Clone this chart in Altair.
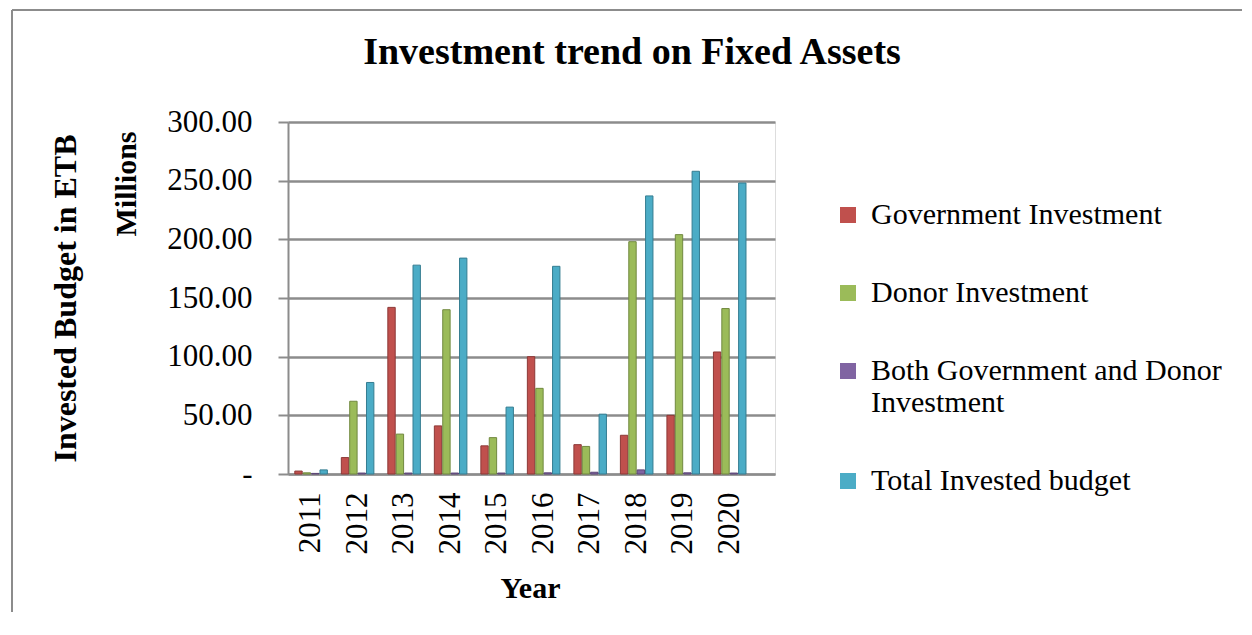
import altair as alt
import pandas as pd

years = ["2011", "2012", "2013", "2014", "2015", "2016", "2017", "2018", "2019", "2020"]
series = ["Government Investment", "Donor Investment",
          "Both Government and Donor Investment", "Total Invested budget"]
gov = [2.5, 14, 142, 41, 24, 100, 25, 33, 50, 104]
donor = [1, 62, 34, 140, 31, 73, 23.5, 198, 204, 141]
both = [0.5, 0.8, 0.8, 0.8, 0.8, 1.0, 1.5, 3.5, 1.0, 0.8]
total = [3.5, 78, 178, 184, 57, 177, 51, 237, 258, 248]
y_ticks = [0, 50, 100, 150, 200, 250, 300]

colors = ["#C0504D", "#9BBB59", "#8064A2", "#4BACC6"]
strokes = ["#8C3836", "#71893F", "#5C4776", "#357D91"]

rows = []
for s, vals in zip(series, [gov, donor, both, total]):
    for yr, v in zip(years, vals):
        rows.append({"Year": yr, "Series": s, "Value": v})
df = pd.DataFrame(rows)

FONT = "Liberation Serif"
GRID = "#8c8c8c"
W, H = 487, 352

bars = alt.Chart(df).mark_bar(strokeWidth=1).encode(
    x=alt.X("Year:N", sort=years,
            scale=alt.Scale(paddingInner=0.3, paddingOuter=0.385, align=0.19),
            axis=alt.Axis(title="Year", labelAngle=-90, labelFontSize=31, labelFont=FONT,
                          labelColor="black", labelPadding=18, ticks=False,
                          domainColor=GRID, domainWidth=2,
                          titleFontSize=30, titleFontWeight="bold", titleFont=FONT,
                          titleColor="black", titleX=242, titleY=114,
                          titleBaseline="middle", titleAlign="center")),
    xOffset=alt.XOffset("Series:N", sort=series, scale=alt.Scale(paddingInner=0.12)),
    y=alt.Y("Value:Q", scale=alt.Scale(domain=[0, 300], nice=False),
            axis=alt.Axis(title="Invested Budget in ETB", values=y_ticks,
                          labelExpr="datum.value == 0 ? '-\u00a0\u00a0\u00a0' : format(datum.value, '.2f')",
                          labelFontSize=31, labelFont=FONT, labelColor="black",
                          labelPadding=26, tickSize=10, tickColor=GRID, tickWidth=2,
                          domainColor=GRID, domainWidth=2,
                          grid=True, gridColor=GRID, gridWidth=2.5,
                          titleFontSize=32, titleFontWeight="bold", titleFont=FONT,
                          titleColor="black", titleAngle=270, titleX=-223, titleY=176,
                          titleBaseline="middle", titleAlign="center")),
    color=alt.Color("Series:N", sort=series,
                    scale=alt.Scale(domain=series, range=colors),
                    legend=alt.Legend(title=None, orient="none", legendX=545, legendY=78,
                                      symbolType="square", symbolSize=256,
                                      symbolStrokeWidth=0,
                                      labelFontSize=30, labelFont=FONT, labelColor="black",
                                      labelLimit=0, labelOffset=8, rowPadding=48,
                                      labelExpr="datum.label == 'Both Government and Donor Investment' ? ['Both Government and Donor', 'Investment'] : datum.label")),
    stroke=alt.Stroke("Series:N", scale=alt.Scale(domain=series, range=strokes), legend=None),
)

millions = alt.Chart(pd.DataFrame({"t": ["Millions"]})).mark_text(
    angle=270, fontSize=30, fontWeight="bold", font=FONT, color="black",
    align="center", baseline="middle"
).encode(x=alt.value(-161), y=alt.value(62), text="t:N")

title = alt.Chart(pd.DataFrame({"t": ["Investment trend on Fixed Assets"]})).mark_text(
    fontSize=38, fontWeight="bold", font=FONT, color="black",
    align="center", baseline="middle"
).encode(x=alt.value(344), y=alt.value(-69), text="t:N")

left_border = alt.Chart(pd.DataFrame({"a": [0]})).mark_rule(color=GRID, strokeWidth=2).encode(
    x=alt.value(-276), y=alt.value(-112), y2=alt.value(490))
top_border = alt.Chart(pd.DataFrame({"a": [0]})).mark_rule(color=GRID, strokeWidth=2).encode(
    x=alt.value(-276), x2=alt.value(954), y=alt.value(-112))

chart = alt.layer(bars, millions, title, left_border, top_border).properties(
    width=W, height=H,
    padding={"left": 3, "top": 1, "right": 0, "bottom": 0},
).configure_view(stroke=None).configure(font=FONT)

chart.save("out.html", embed_options={"renderer": "svg", "actions": False})
